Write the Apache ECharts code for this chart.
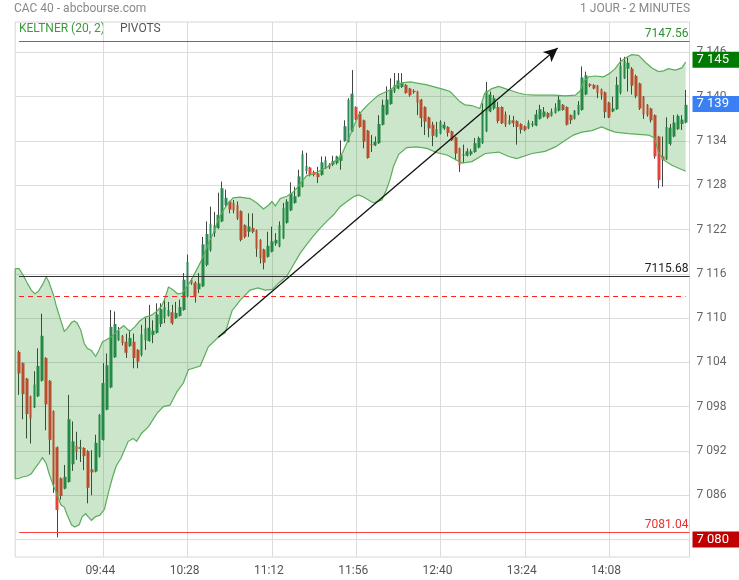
<!DOCTYPE html>
<html><head><meta charset="utf-8">
<script src="https://cdn.jsdelivr.net/npm/echarts@6/dist/echarts.min.js"></script>
<style>html,body{margin:0;padding:0;background:#fff;}#c{width:739px;height:580px;}</style>
</head><body><div id="c"></div>
<script>
// ---- data ----
const xTickLabels = ['09:44','10:28','11:12','11:56','12:40','13:24','14:08'];
const yTickValues = [7080,7086,7092,7098,7104,7110,7116,7122,7128,7134,7140,7146];
// one row per 2-minute candle from 09:00: [open, close, low, high]
const ohlc = [
[7105.4,7102.5,7099.6,7105.6],[7103.9,7099.7,7096.3,7104.0],[7101.8,7097.0,7093.7,7101.9],[7099.4,7096.4,7093.0,7099.5],
[7097.9,7101.0,7097.8,7102.8],[7099.4,7103.5,7099.3,7105.9],[7101.5,7107.6,7101.4,7110.6],[7104.6,7098.3,7094.8,7104.7],
[7101.5,7093.5,7091.5,7101.6],[7097.4,7087.5,7086.3,7097.5],[7092.5,7084.0,7080.3,7092.6],[7088.3,7085.9,7085.4,7088.4],
[7086.9,7088.5,7086.8,7090.1],[7087.8,7096.3,7087.7,7099.6],[7090.2,7093.3,7089.3,7096.0],[7092.7,7091.9,7090.8,7094.6],
[7092.3,7092.5,7090.5,7093.5],[7092.4,7091.3,7089.4,7092.5],[7092.0,7087.0,7084.9,7092.1],[7089.5,7089.1,7086.0,7092.1],
[7089.2,7093.1,7089.1,7094.2],[7091.2,7096.9,7091.1,7097.0],[7093.5,7101.2,7093.4,7103.9],[7097.6,7103.6,7097.5,7105.2],
[7100.6,7108.8,7100.5,7111.1],[7104.7,7109.2,7104.6,7110.9],[7107.0,7108.3,7106.9,7108.8],[7107.6,7106.6,7106.3,7107.7],
[7106.8,7105.3,7104.6,7107.9],[7106.2,7107.3,7106.1,7108.4],[7106.8,7104.6,7103.2,7107.9],[7105.7,7104.1,7103.2,7105.8],
[7105.0,7107.8,7104.8,7109.1],[7107.0,7108.6,7105.7,7110.0],[7106.9,7108.7,7106.8,7111.8],[7107.7,7108.3,7106.6,7109.7],
[7108.0,7110.5,7107.9,7112.0],[7109.2,7111.2,7108.8,7112.0],[7110.0,7111.5,7109.3,7112.7],[7110.3,7111.1,7110.2,7112.2],
[7110.8,7109.3,7109.1,7111.8],[7110.0,7110.7,7109.9,7112.2],[7110.3,7111.5,7110.2,7112.5],[7111.1,7115.2,7111.0,7116.1],
[7112.9,7117.6,7112.8,7118.6],[7115.2,7114.7,7114.5,7115.4],[7114.8,7112.9,7112.1,7115.0],[7113.9,7114.7,7113.4,7116.1],
[7114.3,7120.0,7114.2,7121.0],[7117.2,7121.4,7117.0,7123.1],[7119.2,7122.8,7119.0,7125.1],[7121.5,7122.6,7121.0,7124.4],
[7122.2,7124.0,7122.1,7127.0],[7123.1,7127.6,7123.0,7128.5],[7125.3,7126.3,7125.1,7127.4],[7125.8,7124.7,7124.2,7125.9],
[7125.6,7124.6,7124.2,7126.0],[7125.3,7123.5,7123.3,7125.8],[7124.5,7120.6,7120.4,7124.6],[7122.6,7121.0,7120.8,7122.7],
[7121.7,7122.4,7121.0,7124.2],[7122.2,7121.7,7121.5,7124.2],[7121.9,7119.4,7118.3,7122.0],[7120.6,7118.1,7117.4,7120.7],
[7119.3,7117.5,7116.6,7119.4],[7118.3,7119.8,7118.2,7121.7],[7119.0,7120.4,7118.9,7122.4],[7120.1,7120.6,7119.8,7121.5],
[7119.7,7122.6,7119.6,7123.1],[7120.8,7124.9,7120.7,7125.6],[7122.9,7125.8,7122.8,7126.1],[7124.6,7126.9,7124.5,7128.4],
[7125.6,7126.5,7125.5,7127.8],[7126.5,7129.2,7126.4,7130.1],[7127.8,7132.2,7127.7,7132.7],[7129.9,7130.6,7129.5,7132.4],
[7130.4,7129.4,7129.2,7130.5],[7129.8,7129.4,7129.2,7130.0],[7129.6,7129.1,7128.3,7130.5],[7129.4,7131.1,7129.3,7131.9],
[7130.3,7131.4,7130.2,7131.9],[7130.8,7130.4,7130.2,7131.0],[7130.8,7131.3,7130.6,7132.0],[7131.0,7131.9,7130.8,7132.0],
[7131.3,7132.1,7130.1,7134.1],[7134.0,7136.0,7133.9,7136.8],[7133.9,7139.6,7133.8,7139.8],[7135.3,7140.4,7135.2,7143.6],
[7138.6,7136.9,7136.8,7138.7],[7137.7,7135.9,7135.8,7138.0],[7136.8,7133.9,7133.0,7136.9],[7135.4,7131.7,7131.6,7135.5],
[7133.6,7133.4,7132.5,7134.8],[7133.4,7133.9,7133.3,7134.6],[7133.7,7136.3,7133.6,7137.5],[7136.2,7138.9,7136.1,7139.6],
[7137.6,7139.6,7137.5,7141.4],[7139.0,7141.0,7138.9,7142.5],[7140.7,7141.6,7140.5,7143.2],[7141.1,7142.2,7141.0,7143.2],
[7141.3,7141.9,7141.2,7143.2],[7141.6,7140.5,7140.4,7141.7],[7141.1,7140.2,7140.0,7141.2],[7140.8,7140.6,7140.4,7141.0],
[7140.7,7139.2,7137.5,7140.8],[7139.6,7137.1,7135.9,7139.7],[7138.6,7136.6,7134.8,7138.7],[7137.2,7135.7,7134.5,7137.3],
[7136.2,7134.7,7133.3,7136.6],[7134.6,7135.6,7134.5,7136.6],[7135.0,7136.6,7134.9,7136.8],[7135.7,7136.2,7135.5,7136.6],
[7135.9,7135.1,7134.6,7136.0],[7135.3,7134.1,7134.0,7135.4],[7134.5,7132.3,7131.4,7134.6],[7133.0,7130.7,7129.8,7133.1],
[7132.0,7132.2,7131.0,7133.5],[7132.0,7132.6,7131.9,7133.0],[7132.2,7132.6,7132.0,7132.9],[7132.5,7133.7,7132.4,7134.4],
[7133.1,7134.4,7133.0,7134.6],[7133.7,7138.2,7133.6,7139.1],[7135.3,7140.8,7135.2,7142.0],[7138.0,7140.3,7137.9,7140.7],
[7138.4,7139.8,7138.2,7140.2],[7138.6,7136.7,7136.4,7139.3],[7138.6,7136.4,7136.3,7138.7],[7137.6,7136.2,7135.9,7138.0],
[7136.3,7136.8,7136.2,7137.5],[7136.8,7136.4,7135.9,7137.4],[7136.7,7135.9,7133.5,7136.8],[7136.3,7135.5,7135.0,7136.4],
[7136.0,7135.5,7135.3,7136.1],[7135.7,7136.5,7135.6,7136.8],[7136.1,7136.4,7135.9,7136.7],[7136.1,7137.6,7136.0,7138.2],
[7137.0,7138.3,7136.9,7138.9],[7137.3,7138.0,7137.2,7138.6],[7137.8,7137.2,7137.0,7137.9],[7137.4,7138.0,7137.3,7138.4],
[7137.8,7138.5,7137.7,7139.1],[7138.1,7139.6,7138.0,7140.1],[7138.9,7138.2,7138.1,7139.0],[7138.6,7136.2,7136.1,7138.7],
[7137.5,7136.8,7136.3,7137.6],[7137.0,7138.1,7136.9,7138.2],[7137.6,7138.9,7137.5,7139.4],[7138.2,7142.6,7138.1,7144.1],
[7140.3,7142.9,7140.2,7143.4],[7141.7,7141.5,7141.3,7141.8],[7141.6,7141.1,7141.0,7141.7],[7141.5,7140.5,7139.8,7141.6],
[7141.0,7140.2,7139.6,7141.1],[7140.6,7137.9,7137.1,7140.7],[7139.2,7137.2,7137.1,7139.3],[7138.0,7138.4,7137.9,7140.0],
[7138.3,7141.6,7138.2,7142.7],[7140.5,7144.2,7140.3,7145.3],[7142.5,7144.8,7142.4,7145.4],[7143.8,7144.6,7140.7,7145.3],
[7143.8,7141.5,7140.3,7144.0],[7142.8,7140.1,7139.8,7143.0],[7141.8,7138.4,7138.2,7141.9],[7140.0,7137.6,7137.0,7140.1],
[7138.9,7137.5,7137.3,7139.0],[7138.4,7136.8,7136.5,7138.5],[7137.5,7131.9,7131.6,7137.6],[7134.6,7128.7,7127.6,7134.7],
[7131.9,7131.4,7127.8,7134.6],[7131.5,7135.9,7131.4,7137.2],[7133.6,7135.8,7133.4,7136.3],[7134.6,7136.5,7134.5,7137.5],
[7135.6,7137.4,7135.5,7137.6],[7136.3,7136.9,7135.5,7137.5],[7136.5,7138.9,7136.4,7140.9]
];
// Keltner (20,2) envelope, read as [candle position, value]
const keltnerUpper = [
[-1,7116.7],[0,7116.7],[1.1,7115.8],[2.2,7114.7],[3.2,7113.8],[4.1,7113.3],[5,7113.6],[6.1,7114.5],[7.1,7115.6],[7.8,7114.9],
[9,7113.1],[9.8,7111.5],[10.9,7109.7],[11.8,7108.2],[12.6,7108.6],[13.7,7109.4],[14.4,7109.6],[15.2,7109.3],[16.1,7108.4],
[17,7106.6],[17.8,7105.9],[18.9,7105.6],[20,7104.8],[20.9,7105.7],[21.8,7106.8],[22.6,7107.0],[23.9,7107.4],[25.2,7108.0],
[26.4,7108.6],[27.3,7109.0],[28.9,7108.2],[30.2,7108.8],[31.5,7109.6],[32.8,7110.1],[34.6,7110.4],[35.9,7110.9],[37.2,7111.6],
[38.1,7112.7],[39,7114.2],[40,7113.9],[41.4,7113.3],[42.6,7113.4],[43.7,7114.2],[45,7115.2],[46.3,7116.5],[47.4,7117.6],
[48.3,7118.6],[49.4,7120.1],[50.7,7121.5],[52,7123.3],[53.3,7124.6],[54.6,7125.6],[55.9,7126.3],[57.7,7126.4],[60.3,7126.2],
[62.1,7125.6],[63.8,7124.8],[65.1,7125.3],[66,7125.8],[66.9,7125.2],[68.2,7126.2],[69.9,7126.5],[71.2,7126.9],[72.5,7127.6],
[73.8,7128.5],[75.1,7129.3],[76.8,7129.5],[78.6,7130.0],[80.3,7130.4],[82.1,7131.2],[83.6,7131.6],[84.7,7132.7],[85.7,7133.9],
[87.3,7135.9],[88.6,7137.5],[89.9,7138.3],[91.2,7139.0],[92.5,7139.6],[93.8,7140.2],[95.1,7140.5],[96.9,7140.9],[98.6,7141.6],
[100.4,7141.9],[102.1,7142.0],[104.3,7141.8],[106.5,7141.6],[108.6,7141.3],[110.8,7141.0],[112.5,7140.7],[113.8,7140.0],
[115.1,7139.3],[116.4,7138.9],[118.2,7138.8],[120.3,7138.4],[121.5,7140.4],[123.4,7141.1],[125.2,7141.4],[126.9,7141.1],
[128.6,7140.8],[130.4,7140.5],[132.1,7140.3],[134.7,7140.2],[137.3,7140.2],[139.9,7140.2],[142.5,7140.1],[145.2,7140.2],
[146.5,7140.8],[147.3,7142.0],[148.7,7142.7],[150.4,7142.8],[152.6,7142.7],[154.3,7143.2],[155.6,7143.8],[156.9,7144.7],
[158.2,7145.2],[159.9,7145.7],[161.7,7145.6],[163.4,7144.7],[165.2,7143.9],[166.9,7143.4],[168.2,7143.5],[169.5,7143.8],
[171.3,7143.6],[173,7143.9],[174,7144.7]
];
const keltnerLower = [
[-1,7088.2],[0,7088.3],[1.1,7088.5],[2.2,7088.6],[3.2,7088.9],[4.1,7089.6],[5,7090.2],[6.1,7091.1],[7.1,7090.3],[7.8,7089.0],
[9,7087.2],[9.8,7086.3],[10.9,7084.7],[11.8,7084.4],[12.6,7083.3],[13.7,7082.0],[14.5,7081.7],[15.7,7082.0],[16.5,7083.1],
[17.4,7083.5],[18,7083.1],[18.9,7082.6],[20,7083.1],[21.1,7083.3],[22.3,7084.1],[23.4,7086.5],[24.5,7088.6],[25.4,7090.0],
[26.6,7091.0],[28.5,7093.3],[29.8,7093.7],[30.7,7093.3],[32,7094.4],[33.8,7095.3],[36,7097.1],[37.7,7098.0],[39.4,7098.2],
[41.2,7100.0],[42.9,7101.2],[44.2,7103.0],[47.3,7103.5],[49.4,7106.1],[52,7107.4],[53.8,7108.0],[55.6,7111.0],[57.7,7112.4],
[60.3,7113.8],[62.4,7114.1],[64.2,7113.8],[66.1,7113.9],[68.1,7114.9],[69.9,7115.7],[71.6,7117.2],[73.4,7118.8],[75.1,7120.0],
[76.8,7121.1],[78.6,7122.2],[80.3,7123.1],[82.1,7124.0],[83.8,7125.1],[85.6,7125.8],[87.5,7126.5],[88.6,7126.7],[89.9,7126.4],
[92.5,7125.6],[94.7,7126.0],[96,7127.5],[96.9,7128.9],[97.7,7130.5],[99.1,7132.2],[101.2,7133.1],[103.8,7133.2],[106.5,7133.0],
[109.1,7132.4],[111.7,7132.1],[113.9,7131.5],[115.6,7131.0],[118.2,7131.2],[121.7,7132.3],[125.2,7132.5],[127.8,7131.9],
[129.9,7131.6],[133.9,7132.3],[137.3,7132.6],[140,7133.2],[142.6,7134.1],[144.7,7134.8],[146.9,7135.2],[149.5,7135.4],
[152.1,7135.9],[153.9,7135.5],[155.6,7135.2],[159.1,7135.0],[164.3,7134.8],[165.9,7134.4],[166.9,7132.5],[168.3,7131.4],
[170.4,7130.7],[174,7129.9]
];
const pivotResistance = 7147.56;
const pivotCentral = 7115.68;
const pivotSupport = 7081.04;
const pivotDashed = 7113.0;
const trendStart = [52, 7107.4];
const trendEnd = [140.6, 7146.6];
const dayHigh = 7145, lastPrice = 7139, dayLow = 7080;

// ---- chart ----
const fmt = v => String(v).replace(/\B(?=(\d{3})+(?!\d))/g, ' ');
const times = ohlc.map((_, k) => { const m = 540 + 2 * k; return String(Math.floor(m / 60)).padStart(2, '0') + ':' + String(m % 60).padStart(2, '0'); });
const categories = [''].concat(times, ['']);
const pad = ['-', '-', '-', '-'];
const wickData = [pad].concat(ohlc.map(d => [d[0], d[1], d[2], d[3]]));
const bodyData = [pad].concat(ohlc.map(d => [d[0], d[1], Math.min(d[0], d[1]), Math.max(d[0], d[1])]));
const showTick = (idx, val) => xTickLabels.indexOf(val) >= 0;
const FONT = 'Roboto, "Noto Sans", sans-serif';
const lastIdx = ohlc.length; // end of grid in candle units

const pivotLabel = (color) => ({ show: true, position: 'insideEndTop', color: color, fontSize: 12, lineHeight: 12, distance: 1 });

const chart = echarts.init(document.getElementById('c'), null, { renderer: 'canvas', width: 739, height: 580 });
chart.setOption({
  animation: false,
  backgroundColor: '#fff',
  textStyle: { fontFamily: FONT },
  grid: { left: 15.2, right: 49.5, top: 22, bottom: 23, show: true, borderColor: '#d6d6d6', borderWidth: 1 },
  graphic: [
    { type: 'text', left: 14, top: 3, style: { text: 'CAC 40 - abcbourse.com', fill: '#888', font: '12px ' + FONT } },
    { type: 'text', right: 49, top: 3, style: { text: '1 JOUR - 2 MINUTES', fill: '#888', font: '12px ' + FONT } },
    { type: 'text', left: 19, top: 23, style: { text: 'KELTNER (20, 2)', fill: '#3d9a3d', font: '12px ' + FONT } },
    { type: 'text', left: 120, top: 23, style: { text: 'PIVOTS', fill: '#555', font: '12px ' + FONT } }
  ],
  xAxis: [
    { type: 'category', data: categories, boundaryGap: false,
      axisLine: { show: false }, axisTick: { show: false },
      axisLabel: { interval: showTick, color: '#555', fontSize: 12, margin: 8, padding: [0, 6, 0, 0] },
      splitLine: { show: true, interval: showTick, lineStyle: { color: '#dcdcdc', width: 1 } } },
    { type: 'value', min: -1, max: lastIdx, show: false, splitLine: { show: false } }
  ],
  yAxis: {
    type: 'value', position: 'right', min: 7077.63, max: 7150.12,
    axisLine: { show: false },
    axisTick: { show: false, customValues: yTickValues },
    axisLabel: { customValues: yTickValues, formatter: v => fmt(v), color: '#666', fontSize: 12, margin: 7, padding: [0, 0, 7, 0] },
    splitLine: { show: true, lineStyle: { color: '#dcdcdc', width: 1 } }
  },
  series: [
    { type: 'candlestick', name: 'wick', xAxisIndex: 0, data: wickData, barWidth: 1, silent: true, z: 2,
      itemStyle: { color: '#444', color0: '#444', borderColor: '#444', borderColor0: '#444', borderWidth: 1 } },
    { type: 'candlestick', name: 'body', xAxisIndex: 0, data: bodyData, barWidth: 3.2, silent: true, z: 2,
      itemStyle: { color: '#2e8b57', color0: '#e8413a', borderColor: '#2e8b57', borderColor0: '#e8413a', borderWidth: 0 } },
    { type: 'custom', name: 'keltner', xAxisIndex: 1, yAxisIndex: 0, z: 3, silent: true,
      data: [[0, 7100]], encode: { x: 0, y: 1 },
      renderItem: (params, api) => {
        const up = keltnerUpper.map(p => api.coord(p));
        const lo = keltnerLower.map(p => api.coord(p));
        return { type: 'group', children: [
          { type: 'polygon', shape: { points: up.concat(lo.slice().reverse()) }, style: { fill: 'rgba(0,128,0,0.2)', stroke: null } },
          { type: 'polyline', shape: { points: up }, style: { fill: null, stroke: '#5aad5a', lineWidth: 1.2 } },
          { type: 'polyline', shape: { points: lo }, style: { fill: null, stroke: '#5aad5a', lineWidth: 1.2 } },
          { type: 'polyline', shape: { points: [up[0], lo[0]] }, style: { fill: null, stroke: 'rgba(70,160,70,0.6)', lineWidth: 1.5 } }
        ] };
      },
      markLine: {
        silent: true, symbol: 'none', animation: false,
        data: [
          [{ coord: [0, pivotResistance], lineStyle: { color: '#3f8f3f', width: 1, type: 'solid' },
             label: Object.assign(pivotLabel('#2f8f2f'), { formatter: pivotResistance.toFixed(2) }) },
           { coord: [lastIdx, pivotResistance] }],
          [{ coord: [0, pivotCentral], lineStyle: { color: '#333', width: 1, type: 'solid' },
             label: Object.assign(pivotLabel('#222'), { formatter: pivotCentral.toFixed(2) }) },
           { coord: [lastIdx, pivotCentral] }],
          [{ coord: [0, pivotDashed], lineStyle: { color: '#ff2020', width: 1, type: [5, 4] }, label: { show: false } },
           { coord: [lastIdx - 1, pivotDashed] }],
          [{ coord: [0, pivotSupport], lineStyle: { color: '#ff4040', width: 1, type: 'solid' },
             label: Object.assign(pivotLabel('#e83030'), { formatter: pivotSupport.toFixed(2) }) },
           { coord: [lastIdx, pivotSupport] }],
          [{ coord: trendStart, symbol: 'none', lineStyle: { color: '#111', width: 1.3, type: 'solid' }, label: { show: false } },
           { coord: trendEnd, symbol: 'arrow', symbolSize: [10, 14] }],
          { yAxis: dayHigh, lineStyle: { color: 'rgba(0,0,0,0)' },
            label: { show: true, position: 'end', distance: 3, formatter: fmt(dayHigh), color: '#fff', backgroundColor: '#007a00', fontSize: 13, padding: [2, 14, 1, 4], opacity: 1 } },
          { yAxis: lastPrice, lineStyle: { color: 'rgba(0,0,0,0)' },
            label: { show: true, position: 'end', distance: 3, formatter: fmt(lastPrice), color: '#fff', backgroundColor: '#3b7ff5', fontSize: 13, padding: [2, 14, 1, 4], opacity: 1 } },
          { yAxis: dayLow, lineStyle: { color: 'rgba(0,0,0,0)' },
            label: { show: true, position: 'end', distance: 3, formatter: fmt(dayLow), color: '#fff', backgroundColor: '#c00000', fontSize: 13, padding: [2, 14, 1, 4], opacity: 1 } }
        ]
      }
    }
  ]
});
</script>
</body></html>
